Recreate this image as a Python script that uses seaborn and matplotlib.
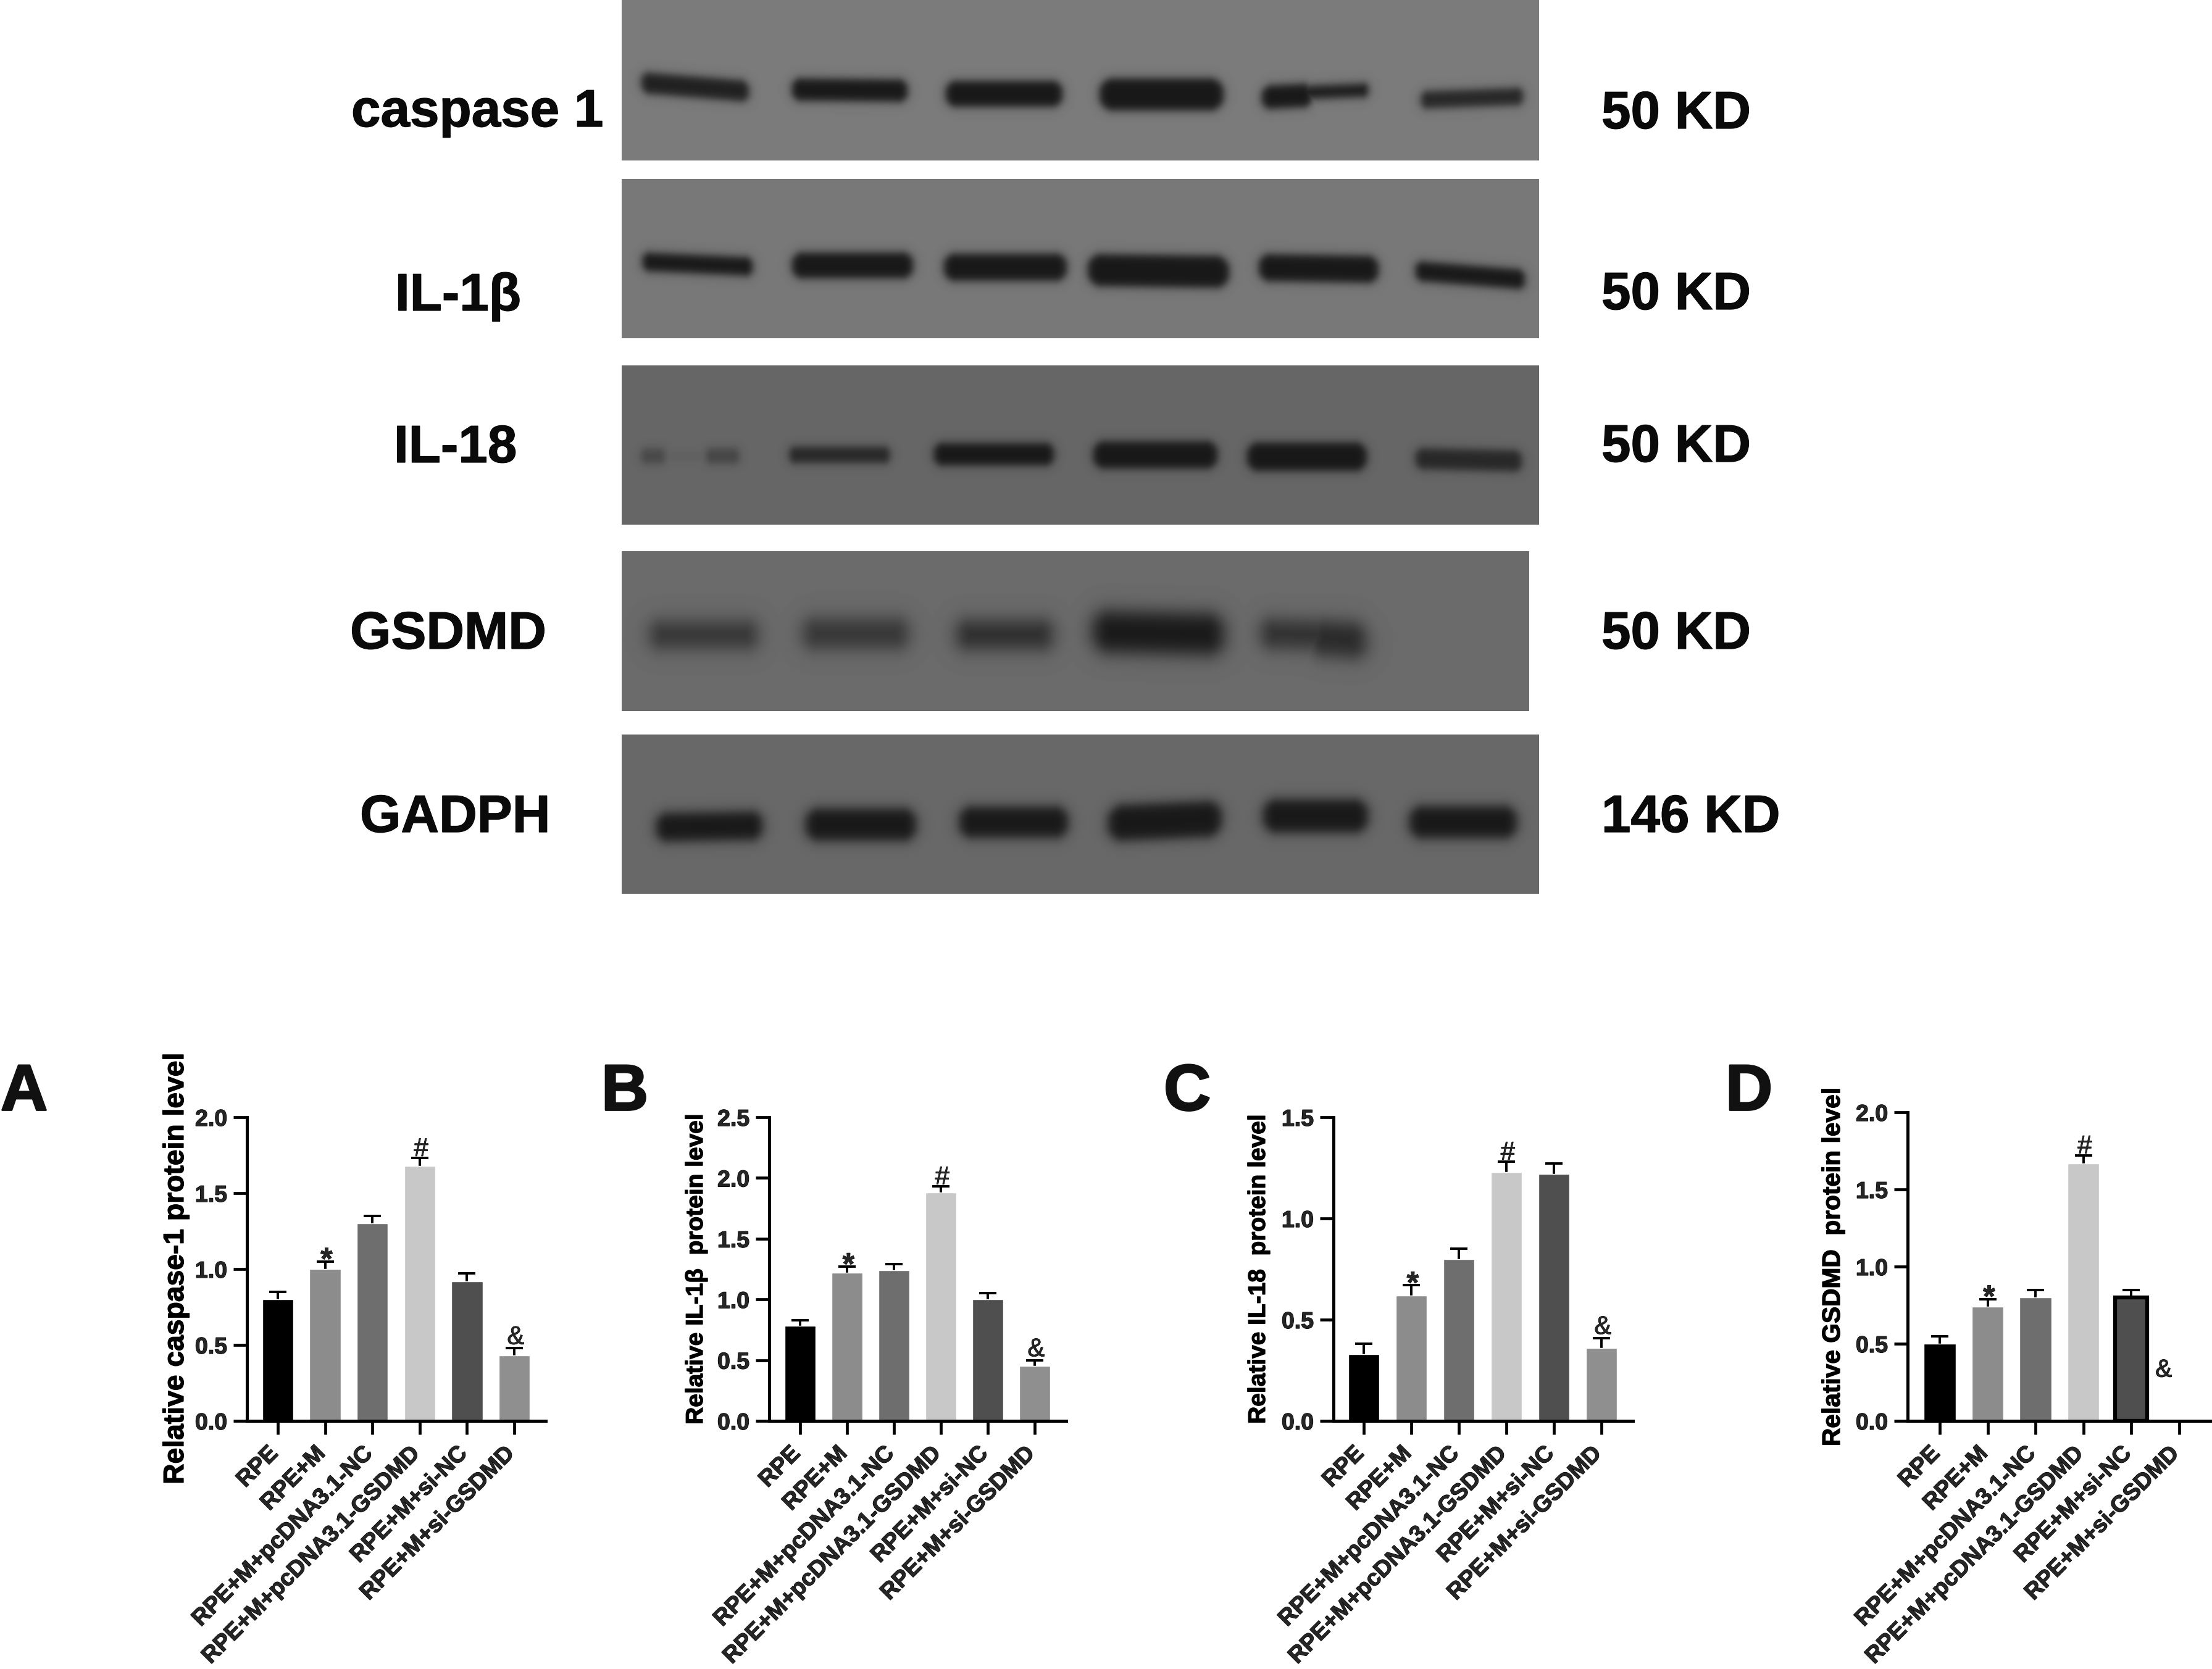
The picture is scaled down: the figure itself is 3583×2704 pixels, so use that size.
import numpy as np
import pandas as pd
import matplotlib
matplotlib.use('Agg')
import matplotlib.pyplot as plt
import matplotlib.patheffects as pe
from matplotlib.transforms import ScaledTranslation
import seaborn as sns

W, H = 3583, 2704

groups = ['RPE', 'RPE+M', 'RPE+M+pcDNA3.1-NC', 'RPE+M+pcDNA3.1-GSDMD',
          'RPE+M+si-NC', 'RPE+M+si-GSDMD']
bar_colors = ['#000000', '#8c8c8c', '#6e6e6e', '#c8c8c8', '#4f4f4f', '#8f8f8f']
marks = ['', '*', '', '#', '', '&']
mark_offset = {'*': -9, '#': 2.5, '&': 4.5}
mark_size = {'*': 36, '#': 30, '&': 30}

# bar values
caspase_vals = [0.80, 1.00, 1.30, 1.68, 0.92, 0.43]
il1b_vals = [0.78, 1.22, 1.24, 1.88, 1.00, 0.45]
il18_vals = [0.33, 0.62, 0.80, 1.23, 1.22, 0.36]
gsdmd_vals = [0.50, 0.74, 0.80, 1.67, 0.80, 0.0]
caspase_err = [0.05, 0.05, 0.05, 0.05, 0.05, 0.05]
il1b_err = [0.05, 0.05, 0.05, 0.05, 0.05, 0.05]
il18_err = [0.05, 0.05, 0.05, 0.05, 0.05, 0.05]
gsdmd_err = [0.05, 0.05, 0.05, 0.05, 0.05, 0.0]

# blots: panel box in reference pixels, background grey, band edges
blot_names = ['caspase 1', 'IL-1β', 'IL-18', 'GSDMD', 'GADPH']
blot_sizes = ['50 KD', '50 KD', '50 KD', '50 KD', '146 KD']
blot_boxes = [(1007, 2493, 0, 260), (1007, 2493, 290, 548), (1007, 2493, 592, 850),
              (1007, 2477, 893, 1152), (1007, 2493, 1190, 1448)]
blot_bg = [123, 120, 102, 107, 104]
blot_blur = [4.0, 4.0, 4.0, 9.0, 5.5]
band_left = [[1038, 1282, 1531, 1780, 2043, 2060, 2301],
             [1040, 1282, 1528, 1761, 2038, 2292],
             [1038, 1076, 1143, 1278, 1512, 1770, 2019, 2292],
             [1053, 1301, 1550, 1770, 2043, 2120],
             [1062, 1304, 1553, 1794, 2045, 2282]]
band_right = [[1212, 1469, 1720, 1981, 2125, 2215, 2466],
              [1218, 1478, 1727, 1990, 2232, 2469],
              [1076, 1143, 1196, 1440, 1706, 1971, 2213, 2464],
              [1225, 1469, 1703, 1981, 2190, 2211],
              [1234, 1483, 1729, 1978, 2215, 2456]]
band_y = [[140, 145, 151, 152, 155, 148, 158],
          [427, 429, 432, 438, 434, 445],
          [738, 738, 738, 736, 735, 736, 739, 744],
          [1028, 1026, 1028, 1025, 1028, 1035],
          [1338, 1335, 1331, 1329, 1321, 1331]]
band_h = [[34, 36, 42, 52, 38, 22, 28],
          [30, 42, 44, 52, 44, 32],
          [24, 10, 24, 26, 36, 44, 46, 34],
          [44, 48, 46, 66, 46, 56],
          [46, 52, 50, 58, 54, 52]]
band_tilt = [[14, 2, 0, 0, -4, -6, -6],
             [8, 0, 0, 3, 3, 14],
             [0, 0, 0, 0, 0, 0, 0, 4],
             [0, 0, 0, 5, 4, 6],
             [-3, 0, 0, -8, 0, 0]]
band_dark = [[0.92, 1, 1, 1, 1, 0.95, 0.85],
             [1, 1, 1, 1, 1, 1],
             [0.38, 0.1, 0.42, 0.8, 1, 1, 1, 0.8],
             [0.65, 0.65, 0.75, 1, 0.72, 0.8],
             [1, 1, 1, 1, 1, 1]]
band_black = 24

name_x = [569, 640, 638, 567, 583]
name_y = [183, 481, 727, 1029, 1326]
size_y = [186, 479, 726, 1029, 1326]

# bar panels, reference pixels
panel_letters = ['A', 'B', 'C', 'D']
letter_x = [1, 974, 1885, 2795]
ylabels = ['Relative caspase-1 protein level', 'Relative IL-1β  protein level',
           'Relative IL-18  protein level', 'Relative GSDMD  protein level']
ylabel_x = [285, 1128, 2039, 2969]
ylabel_y = [2055, 2056, 2056, 2052]
ylabel_size = [33.3, 28, 28, 29.3]
values = [caspase_vals, il1b_vals, il18_vals, gsdmd_vals]
errors = [caspase_err, il1b_err, il18_err, gsdmd_err]
y_tops = [2.0, 2.5, 1.5, 2.0]
y_steps = [0.5, 0.5, 0.5, 0.5]
axis_left = [400, 1246, 2160, 3090]
axis_right = [884, 1727, 2645, 3582]
axis_top = [1810, 1810, 1810, 1802]
axis_bottom = 2302
first_bar = [450, 1296, 2209, 3142]
bar_step = [76.6, 76.0, 77.0, 77.5]

sns.set_style('ticks')
plt.rcParams['font.family'] = ['Liberation Sans', 'DejaVu Sans']
plt.rcParams['font.weight'] = 'bold'

heavy = [pe.withStroke(linewidth=0.9, foreground='black')]

fig = plt.figure(figsize=(W / 100, H / 100), dpi=100, facecolor='white')
bg = fig.add_axes([0, 0, 1, 1])
bg.set_xlim(0, W)
bg.set_ylim(H, 0)
bg.axis('off')

# western blots
for i, box in enumerate(blot_boxes):
    x0, x1, y0, y1 = box
    xx, yy = np.meshgrid(np.arange(x0, x1, 2.0), np.arange(y0, y1, 2.0))
    ink = np.zeros_like(xx)
    s = blot_blur[i]
    for l, r, yc, h, t, d in zip(band_left[i], band_right[i], band_y[i], band_h[i],
                                 band_tilt[i], band_dark[i]):
        mid = yc + t * (xx - (l + r) / 2) / (r - l)
        # rounded band outline, soft edge
        rad = 0.9 * h / 2
        qx = np.abs(xx - (l + r) / 2) - ((r - l) / 2 - rad)
        qy = np.abs(yy - mid) - (h / 2 - rad)
        dist = np.hypot(np.maximum(qx, 0), np.maximum(qy, 0)) + np.minimum(np.maximum(qx, qy), 0) - rad
        ink = np.maximum(ink, d / (1 + np.exp(dist / s)))
    img = blot_bg[i] - (blot_bg[i] - band_black) * ink
    bg.imshow(img, cmap='gray', vmin=0, vmax=255, extent=(x0, x1, y1, y0),
              interpolation='bilinear', aspect='auto')
    bg.text(name_x[i], name_y[i], blot_names[i], fontsize=61.5, ha='left', va='center',
            color='#0a0a0a', path_effects=heavy)
    bg.text(2594, size_y[i], blot_sizes[i], fontsize=61.5, ha='left', va='center',
            color='#0a0a0a', path_effects=heavy)
bg.set_xlim(0, W)
bg.set_ylim(H, 0)

# bar panels
for i in range(4):
    ax = fig.add_axes([axis_left[i] / W, 1 - axis_bottom / H,
                       (axis_right[i] - axis_left[i]) / W,
                       (axis_bottom - axis_top[i]) / H])
    ax.patch.set_alpha(0)
    df = pd.DataFrame({'group': groups, 'value': values[i]})
    sns.barplot(data=df, x='group', y='value', hue='group', palette=bar_colors, legend=False,
                width=0.66, saturation=1, errorbar=None, ax=ax)
    _, caps, _ = ax.errorbar(range(6), values[i], yerr=[[0] * 6, errors[i]], fmt='none',
                             ecolor='black', elinewidth=2.8, capsize=10, capthick=2.8, zorder=0.5)
    caps[0].remove()  # only the upper cap shows in the original
    if i == 3:
        # this bar carries a black outline in the original
        ax.patches[4].set_edgecolor('black')
        ax.patches[4].set_linewidth(4.5)

    ax.set_xlim((axis_left[i] - first_bar[i]) / bar_step[i],
                (axis_right[i] - first_bar[i]) / bar_step[i])
    ax.set_ylim(0, y_tops[i])
    ax.set_yticks(np.arange(0, y_tops[i] + 0.01, y_steps[i]))
    ax.set_yticklabels(['%.1f' % v for v in ax.get_yticks()], fontsize=27, fontweight='bold',
                       path_effects=heavy)
    ax.set_xticks(range(6))
    ax.set_xticklabels(groups, fontsize=27, fontweight='bold', rotation=45, ha='right',
                       va='top', rotation_mode='anchor', path_effects=heavy)
    ax.tick_params(axis='both', length=16, width=3.4, color='black', pad=7)
    ax.tick_params(axis='x', pad=9)
    # labels end a little left of their ticks
    nudge = ScaledTranslation(-13 / 72, 0, fig.dpi_scale_trans)
    for lab in ax.get_xticklabels():
        lab.set_transform(lab.get_transform() + nudge)
    ax.set_xlabel('')
    ax.set_ylabel('')
    sns.despine(ax=ax)
    for side in ['left', 'bottom']:
        ax.spines[side].set_linewidth(3.6)
        ax.spines[side].set_color('black')

    for j, mark in enumerate(marks):
        if not mark:
            continue
        if i == 3 and mark == '&':
            ax.text(j - 0.32, 0.33, mark, fontsize=29, fontweight='normal', ha='center', va='center',
                    path_effects=[pe.withStroke(linewidth=0.8, foreground='black')])
        else:
            ax.annotate(mark, (j + 0.03, values[i][j] + errors[i][j]), xytext=(0, mark_offset[mark]),
                        textcoords='offset points', fontsize=mark_size[mark],
                        fontweight='bold' if mark == '*' else 'normal',
                        ha='center', va='baseline',
                        path_effects=[pe.withStroke(linewidth=0.6, foreground='black')])

    bg.text(ylabel_x[i], ylabel_y[i], ylabels[i], rotation=90, fontsize=ylabel_size[i],
            ha='center', va='center', color='black', path_effects=heavy)
    bg.text(letter_x[i], 1771, panel_letters[i], fontsize=76, ha='left', va='center', color='#111111',
            path_effects=[pe.withStroke(linewidth=2.0, foreground='#111111')])

fig.savefig('out.png', dpi=100, facecolor='white')
